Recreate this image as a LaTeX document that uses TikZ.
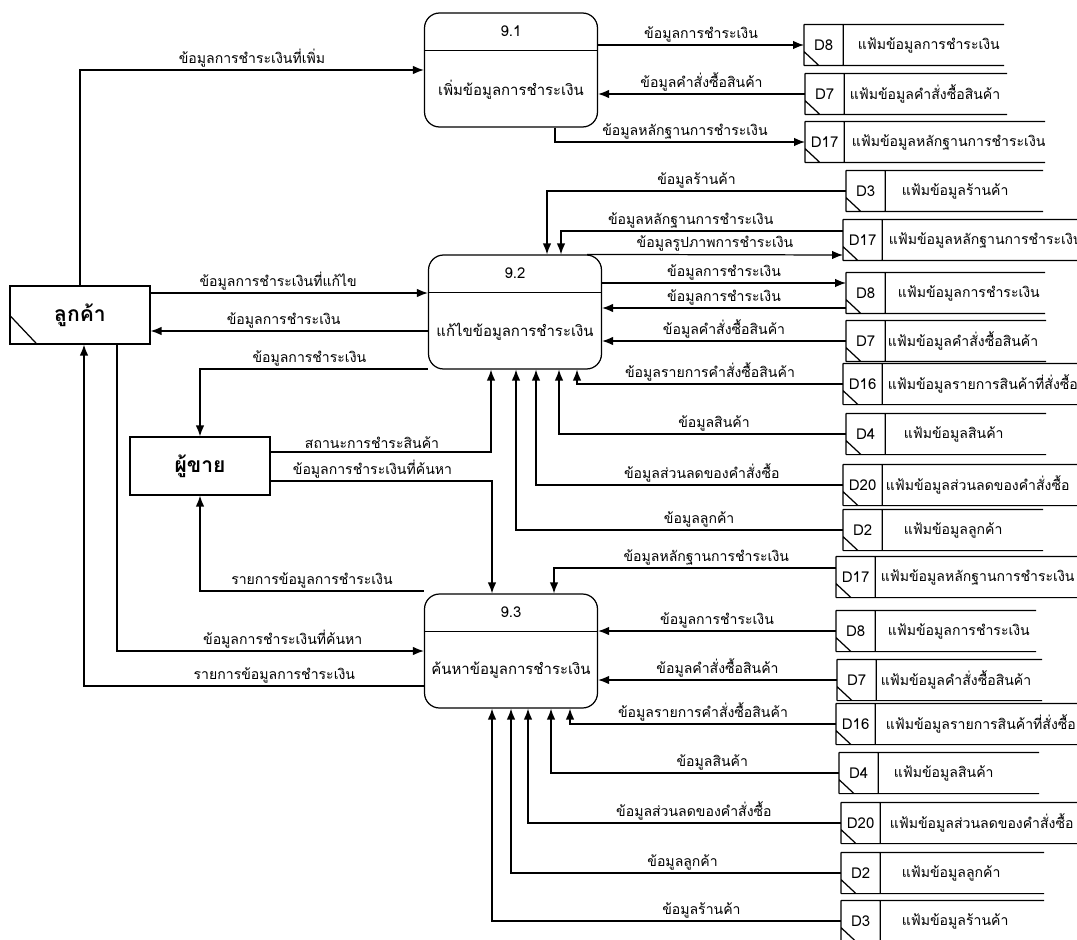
\documentclass[tikz,border=0pt]{standalone}
\usepackage{fontspec}
\setmainfont{Loma}[Script=Thai]
\usetikzlibrary{arrows.meta}

\tikzset{
  proc/.style={draw, rounded corners=0.3cm, minimum width=3.46cm, minimum height=2.28cm},
  ptxt/.style={font=\fontsize{8.5}{10}\selectfont},
  ent/.style={draw, minimum width=2.8cm, minimum height=1.16cm, font=\fontsize{12}{14}\selectfont\bfseries},
  storeid/.style={minimum width=0.76cm, minimum height=0.8cm, inner sep=0pt, font=\fontsize{8.5}{10}\selectfont},
  stxt/.style={font=\fontsize{8}{10}\selectfont, inner sep=0pt},
  lbl/.style={font=\fontsize{8}{10}\selectfont, inner sep=1.5pt, above},
  flow/.style={-{Latex[length=2.2mm,width=1.7mm]}}
}

% data store: name, x, mid y, id, file name, text gap, line length
\newcommand{\dstore}[7]{%
  \node[storeid, anchor=west] (#1) at (#2,#3) {#4};
  \draw (#1.north west) -- ++(#7,0) (#1.south west) -- ++(#7,0)
        (#1.north west) -- (#1.south west) (#1.north east) -- (#1.south east)
        (#1.south west) ++(0,-14) -- ++(15,14);
  \path (#1.east) ++(#6,0) node[stxt, anchor=west] {#5};
}

\begin{document}
\begin{tikzpicture}[x=0.02cm, y=-0.02cm, line width=0.7pt]
  \clip (0,0) rectangle (1077,939);

  % processes
  \node[proc] (p91) at (511,70) {};
  \node[proc] (p92) at (515,312) {};
  \node[proc] (p93) at (511,651) {};
  \foreach \p/\n/\t in {p91/9.1/เพิ่มข้อมูลการชำระเงิน, p92/9.2/แก้ไขข้อมูลการชำระเงิน, p93/9.3/ค้นหาข้อมูลการชำระเงิน} {
    \draw ([yshift=-0.76cm]\p.north west) -- ([yshift=-0.76cm]\p.north east);
    \node[ptxt] at ([yshift=-0.38cm]\p.north) {\n};
    \node[ptxt] at ([yshift=0.76cm]\p.south) {\t};
  }

  % external entities
  \node[ent] (cust) at (80,315) {ลูกค้า};
  \draw (cust.west) -- ([xshift=0.56cm]cust.south west);
  \node[ent] (seller) at (200,466) {ผู้ขาย};

  % data stores
  \dstore{d8a}{804}{45}{D8}{แฟ้มข้อมูลการชำระเงิน}{14}{200}
  \dstore{d7a}{805}{94}{D7}{แฟ้มข้อมูลคำสั่งซื้อสินค้า}{5}{202}
  \dstore{d17a}{805}{142}{D17}{แฟ้มข้อมูลหลักฐานการชำระเงิน}{7}{240}

  \dstore{d3b}{846}{191}{D3}{แฟ้มข้อมูลร้านค้า}{16}{197}
  \dstore{d17b}{843}{240}{D17}{แฟ้มข้อมูลหลักฐานการชำระเงิน}{6}{260}
  \dstore{d8b}{846}{293}{D8}{แฟ้มข้อมูลการชำระเงิน}{12}{199}
  \dstore{d7b}{846}{341}{D7}{แฟ้มข้อมูลคำสั่งซื้อสินค้า}{2}{200}
  \dstore{d16b}{843}{384}{D16}{แฟ้มข้อมูลรายการสินค้าที่สั่งซื้อ}{5}{260}
  \dstore{d4b}{846}{434}{D4}{แฟ้มข้อมูลสินค้า}{18}{200}
  \dstore{d20b}{843}{485}{D20}{แฟ้มข้อมูลส่วนลดของคำสั่งซื้อ}{3}{260}
  \dstore{d2b}{843}{530}{D2}{แฟ้มข้อมูลลูกค้า}{21}{200}

  \dstore{d17c}{836}{577}{D17}{แฟ้มข้อมูลหลักฐานการชำระเงิน}{5}{260}
  \dstore{d8c}{836}{631}{D8}{แฟ้มข้อมูลการชำระเงิน}{12}{200}
  \dstore{d7c}{837}{680}{D7}{แฟ้มข้อมูลคำสั่งซื้อสินค้า}{4}{205}
  \dstore{d16c}{836}{724}{D16}{แฟ้มข้อมูลรายการสินค้าที่สั่งซื้อ}{10}{260}
  \dstore{d4c}{839}{773}{D4}{แฟ้มข้อมูลสินค้า}{15}{200}
  \dstore{d20c}{841}{823}{D20}{แฟ้มข้อมูลส่วนลดของคำสั่งซื้อ}{9}{240}
  \dstore{d2c}{841}{873}{D2}{แฟ้มข้อมูลลูกค้า}{21}{203}
  \dstore{d3c}{841}{921}{D3}{แฟ้มข้อมูลร้านค้า}{21}{203}

  % 9.1
  \draw[flow] (cust.north) |- (p91.west) node[lbl, pos=0.75] {ข้อมูลการชำระเงินที่เพิ่ม};
  \draw[flow] (p91.east |- d8a.west) -- (d8a.west) node[lbl, midway] {ข้อมูลการชำระเงิน};
  \draw[flow] (d7a.west) -- (p91.east |- d7a.west) node[lbl, midway] {ข้อมูลคำสั่งซื้อสินค้า};
  \draw[flow] (p91.south -| 555,0) |- (d17a.west) node[lbl, pos=0.76] {ข้อมูลหลักฐานการชำระเงิน};

  % 9.2
  \draw[flow] (cust.east |- 0,293) -- (p92.west |- 0,293) node[lbl, pos=0.46] {ข้อมูลการชำระเงินที่แก้ไข};
  \draw[flow] (p92.west |- 0,331) -- (cust.east |- 0,331) node[lbl, pos=0.52] {ข้อมูลการชำระเงิน};
  \draw[flow] (p92.west |- 0,369) -| (seller.north) node[lbl, pos=0.26] {ข้อมูลการชำระเงิน};
  \draw[flow] (seller.east |- 0,452) -| (p92.south -| 491,0) node[lbl, pos=0.23] {สถานะการชำระสินค้า};
  \draw[flow] (d3b.west) -| (p92.north -| 547,0) node[lbl, pos=0.25] {ข้อมูลร้านค้า};
  \draw[flow] (d17b.west |- 0,231) -| (p92.north -| 561,0) node[lbl, pos=0.27] {ข้อมูลหลักฐานการชำระเงิน};
  \draw[flow] (p92.north -| 587,0) -- (d17b.west |- 0,255) node[lbl, midway] {ข้อมูลรูปภาพการชำระเงิน};
  \draw[flow] (p92.east |- 0,283) -- (d8b.west |- 0,283) node[lbl, midway] {ข้อมูลการชำระเงิน};
  \draw[flow] (d8b.west |- 0,308) -- (p92.east |- 0,308) node[lbl, midway] {ข้อมูลการชำระเงิน};
  \draw[flow] (d7b.west) -- (p92.east |- d7b.west) node[lbl, midway] {ข้อมูลคำสั่งซื้อสินค้า};
  \draw[flow] (d16b.west) -| (p92.south -| 577,0) node[lbl, pos=0.25] {ข้อมูลรายการคำสั่งซื้อสินค้า};
  \draw[flow] (d4b.west) -| (p92.south -| 559,0) node[lbl, pos=0.23] {ข้อมูลสินค้า};
  \draw[flow] (d20b.west) -| (p92.south -| 536,0) node[lbl, pos=0.23] {ข้อมูลส่วนลดของคำสั่งซื้อ};
  \draw[flow] (d2b.west) -| (p92.south -| 516,0) node[lbl, pos=0.22] {ข้อมูลลูกค้า};

  % 9.3
  \draw[flow] (seller.east |- 0,481) -| (p93.north -| 492,0) node[lbl, pos=0.23] {ข้อมูลการชำระเงินที่ค้นหา};
  \draw[flow] (p93.west |- 0,591) -| (seller.south) node[lbl, pos=0.25] {รายการข้อมูลการชำระเงิน};
  \draw[flow] (cust.south -| 117,0) |- (p93.west) node[lbl, pos=0.77] {ข้อมูลการชำระเงินที่ค้นหา};
  \draw[flow] (p93.west |- 0,686) -| (cust.south -| 84,0) node[lbl, pos=0.22] {รายการข้อมูลการชำระเงิน};
  \draw[flow] (d17c.west |- 0,568) -| (p93.north -| 554,0) node[lbl, pos=0.23] {ข้อมูลหลักฐานการชำระเงิน};
  \draw[flow] (d8c.west) -- (p93.east |- d8c.west) node[lbl, midway] {ข้อมูลการชำระเงิน};
  \draw[flow] (d7c.west) -- (p93.east |- d7c.west) node[lbl, midway] {ข้อมูลคำสั่งซื้อสินค้า};
  \draw[flow] (d16c.west) -| (p93.south -| 570,0) node[lbl, pos=0.25] {ข้อมูลรายการคำสั่งซื้อสินค้า};
  \draw[flow] (d4c.west) -| (p93.south -| 551,0) node[lbl, pos=0.22] {ข้อมูลสินค้า};
  \draw[flow] (d20c.west) -| (p93.south -| 528,0) node[lbl, pos=0.235] {ข้อมูลส่วนลดของคำสั่งซื้อ};
  \draw[flow] (d2c.west) -| (p93.south -| 511,0) node[lbl, pos=0.24] {ข้อมูลลูกค้า};
  \draw[flow] (d3c.west) -| (p93.south -| 492,0) node[lbl, pos=0.2] {ข้อมูลร้านค้า};
\end{tikzpicture}
\end{document}
